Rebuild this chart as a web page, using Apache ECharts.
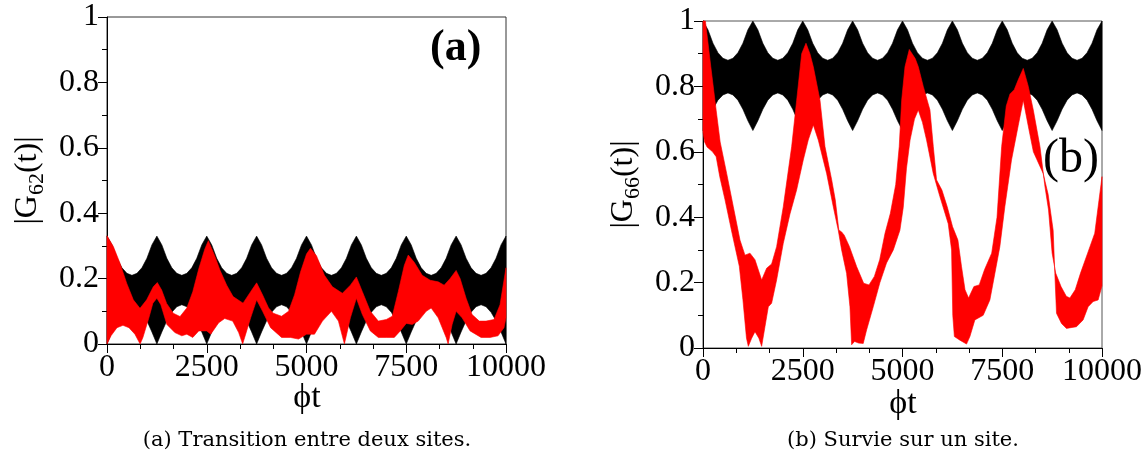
<!DOCTYPE html>
<html>
<head>
<meta charset="utf-8">
<script src="https://cdn.jsdelivr.net/npm/echarts@6/dist/echarts.min.js"></script>
<style>html,body{margin:0;padding:0;background:#fff}#c{width:1147px;height:460px}</style>
</head>
<body>
<div id="c"></div>
<script>
// ---------- data ----------
const xTicks = [0, 2500, 5000, 7500, 10000];
const yTicks = [0, 0.2, 0.4, 0.6, 0.8, 1];

// black band sample positions (phi t)
const blackX = [0,125,250,375,500,625,750,875,1000,1125,1250,1375,1500,1625,1750,1875,2000,2125,2250,2375,2500,2625,2750,2875,3000,3125,3250,3375,3500,3625,3750,3875,4000,4125,4250,4375,4500,4625,4750,4875,5000,5125,5250,5375,5500,5625,5750,5875,6000,6125,6250,6375,6500,6625,6750,6875,7000,7125,7250,7375,7500,7625,7750,7875,8000,8125,8250,8375,8500,8625,8750,8875,9000,9125,9250,9375,9500,9625,9750,9875,10000];

// panel (a) black envelope
const blackAUpper = [0.33,0.303,0.262,0.233,0.216,0.21,0.216,0.233,0.262,0.303,0.33,0.303,0.262,0.233,0.216,0.21,0.216,0.233,0.262,0.303,0.33,0.303,0.262,0.233,0.216,0.21,0.216,0.233,0.262,0.303,0.33,0.303,0.262,0.233,0.216,0.21,0.216,0.233,0.262,0.303,0.33,0.303,0.262,0.233,0.216,0.21,0.216,0.233,0.262,0.303,0.33,0.303,0.262,0.233,0.216,0.21,0.216,0.233,0.262,0.303,0.33,0.303,0.262,0.233,0.216,0.21,0.216,0.233,0.262,0.303,0.33,0.303,0.262,0.233,0.216,0.21,0.216,0.233,0.262,0.303,0.33];
const blackALower = [0,0.037,0.071,0.097,0.114,0.12,0.114,0.097,0.071,0.037,0,0.037,0.071,0.097,0.114,0.12,0.114,0.097,0.071,0.037,0,0.037,0.071,0.097,0.114,0.12,0.114,0.097,0.071,0.037,0,0.037,0.071,0.097,0.114,0.12,0.114,0.097,0.071,0.037,0,0.037,0.071,0.097,0.114,0.12,0.114,0.097,0.071,0.037,0,0.037,0.071,0.097,0.114,0.12,0.114,0.097,0.071,0.037,0,0.037,0.071,0.097,0.114,0.12,0.114,0.097,0.071,0.037,0,0.037,0.071,0.097,0.114,0.12,0.114,0.097,0.071,0.037,0];

// panel (b) black envelope
const blackBUpper = [1,0.973,0.932,0.903,0.886,0.88,0.886,0.903,0.932,0.973,1,0.973,0.932,0.903,0.886,0.88,0.886,0.903,0.932,0.973,1,0.973,0.932,0.903,0.886,0.88,0.886,0.903,0.932,0.973,1,0.973,0.932,0.903,0.886,0.88,0.886,0.903,0.932,0.973,1,0.973,0.932,0.903,0.886,0.88,0.886,0.903,0.932,0.973,1,0.973,0.932,0.903,0.886,0.88,0.886,0.903,0.932,0.973,1,0.973,0.932,0.903,0.886,0.88,0.886,0.903,0.932,0.973,1,0.973,0.932,0.903,0.886,0.88,0.886,0.903,0.932,0.973,1];
const blackBLower = [0.665,0.695,0.73,0.758,0.774,0.78,0.774,0.758,0.73,0.695,0.665,0.695,0.73,0.758,0.774,0.78,0.774,0.758,0.73,0.695,0.665,0.695,0.73,0.758,0.774,0.78,0.774,0.758,0.73,0.695,0.665,0.695,0.73,0.758,0.774,0.78,0.774,0.758,0.73,0.695,0.665,0.695,0.73,0.758,0.774,0.78,0.774,0.758,0.73,0.695,0.665,0.695,0.73,0.758,0.774,0.78,0.774,0.758,0.73,0.695,0.665,0.695,0.73,0.758,0.774,0.78,0.774,0.758,0.73,0.695,0.665,0.695,0.73,0.758,0.774,0.78,0.774,0.758,0.73,0.695,0.665];

// panel (a) red envelope
const redAUpperX = [0,159,326,493,660,827,994,1160,1261,1370,1495,1662,1830,2000,2150,2300,2450,2540,2700,2830,3000,3160,3410,3600,3750,3900,4050,4170,4375,4550,4700,4850,5000,5100,5250,5450,5650,5900,6100,6250,6400,6600,6800,7000,7150,7300,7450,7550,7700,7900,8100,8300,8450,8600,8750,8850,9000,9150,9330,9500,9700,9850,10000];
const redAUpperY = [0.331,0.298,0.247,0.186,0.135,0.109,0.135,0.175,0.188,0.165,0.124,0.094,0.084,0.11,0.16,0.23,0.29,0.316,0.27,0.226,0.18,0.145,0.125,0.16,0.187,0.15,0.11,0.094,0.085,0.10,0.15,0.22,0.275,0.293,0.27,0.21,0.175,0.155,0.18,0.205,0.16,0.10,0.07,0.075,0.085,0.16,0.24,0.272,0.25,0.21,0.195,0.19,0.18,0.20,0.225,0.20,0.14,0.09,0.07,0.07,0.075,0.12,0.233];
const redALowerX = [0,100,250,400,550,700,830,900,1050,1150,1250,1350,1500,1700,1875,2000,2150,2300,2450,2500,2600,2800,2950,3150,3300,3400,3500,3600,3750,3900,4100,4375,4600,4800,5000,5200,5400,5625,5800,5950,6100,6250,6400,6600,6800,7000,7200,7350,7500,7650,7800,8000,8125,8300,8500,8550,8650,8750,8900,9100,9375,9600,9800,9950,10000];
const redALowerY = [0,0.025,0.05,0.057,0.05,0.03,0,0.02,0.08,0.125,0.14,0.12,0.06,0.035,0.025,0.03,0.02,0.04,0.04,0.04,0.03,0.065,0.078,0.07,0.035,0,0.04,0.08,0.135,0.1,0.05,0.02,0.02,0.015,0.03,0.03,0.07,0.1,0.07,0,0.08,0.14,0.09,0.04,0.02,0.02,0.02,0.04,0.063,0.06,0.07,0.1,0.11,0.08,0.02,0,0.06,0.1,0.08,0.04,0.02,0.02,0.025,0.05,0.08];

// panel (b) red envelope
const redBUpperX = [0,60,196,330,430,593,760,927,1052,1177,1303,1470,1595,1720,1845,2012,2222,2348,2473,2581,2680,2765,2932,3057,3226,3315,3404,3474,3540,3671,3850,4027,4160,4295,4428,4562,4696,4830,4918,4979,5062,5170,5319,5396,5521,5688,5772,5854,5988,6121,6255,6389,6478,6567,6656,6790,6923,7057,7235,7369,7485,7600,7694,7800,7900,8027,8153,8278,8445,8571,8660,8750,8839,8973,9106,9195,9329,9462,9640,9818,10000];
const redBUpperY = [1,1,0.86,0.727,0.63,0.534,0.432,0.33,0.284,0.29,0.27,0.208,0.244,0.257,0.31,0.432,0.616,0.758,0.9,0.932,0.9,0.86,0.758,0.616,0.514,0.453,0.361,0.355,0.345,0.31,0.249,0.198,0.193,0.219,0.27,0.351,0.412,0.5,0.616,0.758,0.86,0.913,0.885,0.86,0.8,0.728,0.616,0.514,0.483,0.432,0.371,0.33,0.25,0.178,0.153,0.188,0.193,0.24,0.29,0.40,0.616,0.74,0.777,0.79,0.82,0.855,0.8,0.728,0.616,0.493,0.422,0.29,0.229,0.188,0.158,0.153,0.178,0.229,0.29,0.351,0.524];
const redBLowerX = [0,40,100,240,330,420,552,730,910,1000,1090,1136,1220,1303,1400,1470,1553,1637,1720,1845,2012,2180,2346,2513,2638,2765,2889,3098,3265,3390,3474,3599,3683,3725,3800,3900,4016,4100,4267,4434,4600,4770,4935,5019,5100,5190,5300,5395,5500,5603,5770,5937,6146,6230,6260,6300,6438,6605,6689,6814,7023,7190,7315,7440,7565,7732,7900,8027,8150,8280,8525,8650,8776,8818,8860,8985,9110,9360,9527,9652,9778,9903,10000];
const redBLowerY = [0.66,0.63,0.615,0.6,0.585,0.524,0.453,0.35,0.25,0.148,0.03,0.005,0.03,0.05,0.03,0.005,0.065,0.126,0.137,0.208,0.32,0.41,0.483,0.575,0.636,0.682,0.636,0.534,0.432,0.36,0.30,0.228,0.126,0.01,0.02,0.015,0.014,0.055,0.126,0.2,0.26,0.3,0.36,0.43,0.55,0.636,0.7,0.728,0.69,0.636,0.534,0.463,0.38,0.3,0.1,0.035,0.024,0.012,0.035,0.086,0.1,0.147,0.228,0.31,0.432,0.575,0.68,0.758,0.68,0.6,0.534,0.47,0.36,0.228,0.106,0.075,0.06,0.065,0.086,0.126,0.142,0.147,0.19];

// ---------- chart ----------
const FONT = '"Liberation Serif", "Times New Roman", serif';
const CAPFONT = '"DejaVu Serif", serif';
const chart = echarts.init(document.getElementById('c'), null, {renderer: 'canvas'});

function band(ux, uy, lx, ly, color, idx) {
  return {
    type: 'custom', xAxisIndex: idx, yAxisIndex: idx, silent: true, animation: false,
    data: [[0, 0]],
    renderItem: function (params, api) {
      const pts = [];
      for (let i = 0; i < ux.length; i++) pts.push(api.coord([ux[i], uy[i]]));
      for (let i = lx.length - 1; i >= 0; i--) pts.push(api.coord([lx[i], ly[i]]));
      return {type: 'polygon', shape: {points: pts}, style: {fill: color, stroke: color, lineWidth: 0.6}};
    }
  };
}

function xAx(idx) {
  return {
    type: 'value', gridIndex: idx, min: xTicks[0], max: xTicks[xTicks.length - 1], interval: xTicks[1] - xTicks[0],
    axisLine: {show: true, onZero: false, lineStyle: {color: '#000', width: 1}},
    axisTick: {show: true, inside: false, length: 9, lineStyle: {color: '#000'}},
    minorTick: {show: true, splitNumber: 3, length: 5, lineStyle: {color: '#000'}},
    splitLine: {show: false},
    axisLabel: {fontFamily: FONT, fontSize: 32, color: '#000', margin: 8, formatter: v => String(v)}
  };
}
function yAx(idx, sub) {
  return {
    type: 'value', gridIndex: idx, min: yTicks[0], max: yTicks[yTicks.length - 1], interval: yTicks[1] - yTicks[0],
    name: '{m||G}{s|' + sub + '}{m|(t)|}', nameLocation: 'middle', nameGap: 59, nameRotate: 90,
    nameTextStyle: {
      fontFamily: FONT, color: '#000',
      rich: {
        m: {fontFamily: FONT, fontSize: 32, color: '#000', lineHeight: 40, verticalAlign: 'middle'},
        s: {fontFamily: FONT, fontSize: 22, color: '#000', lineHeight: 40, verticalAlign: 'bottom', padding: [14, 0, 0, 0]}
      }
    },
    axisLine: {show: true, lineStyle: {color: '#000', width: 1}},
    axisTick: {show: true, inside: false, length: 9, lineStyle: {color: '#000'}},
    minorTick: {show: true, splitNumber: 2, length: 5, lineStyle: {color: '#000'}},
    splitLine: {show: false},
    axisLabel: {fontFamily: FONT, fontSize: 32, color: '#000', margin: 8, formatter: v => String(Math.round(v * 10) / 10)}
  };
}

chart.setOption({
  animation: false,
  backgroundColor: '#fff',
  grid: [
    {left: 107, top: 17, width: 399, height: 327, show: true, borderColor: '#333', borderWidth: 1, backgroundColor: 'transparent'},
    {left: 703, top: 21, width: 399, height: 327, show: true, borderColor: '#555', borderWidth: 1, backgroundColor: 'transparent'}
  ],
  xAxis: [xAx(0), xAx(1)],
  yAxis: [yAx(0, '62'), yAx(1, '66')],
  series: [
    band(blackX, blackAUpper, blackX, blackALower, '#000', 0),
    band(redAUpperX, redAUpperY, redALowerX, redALowerY, '#ff0000', 0),
    band(blackX, blackBUpper, blackX, blackBLower, '#000', 1),
    band(redBUpperX, redBUpperY, redBLowerX, redBLowerY, '#ff0000', 1)
  ],
  graphic: [
    {type: 'text', x: 307, y: 398, z: 100, style: {text: 'ϕt', font: '34px ' + FONT, fill: '#000', textAlign: 'center', textVerticalAlign: 'middle'}},
    {type: 'text', x: 903, y: 404, z: 100, style: {text: 'ϕt', font: '34px ' + FONT, fill: '#000', textAlign: 'center', textVerticalAlign: 'middle'}},
    {type: 'text', left: 430, top: 27, z: 100, style: {text: '(a)', font: 'bold 44px ' + FONT, fill: '#000'}},
    {type: 'text', left: 1043, top: 135, z: 100, style: {text: '(b)', font: '48px ' + FONT, fill: '#000'}},
    {type: 'text', x: 307, y: 441, z: 100, style: {text: '(a) Transition entre deux sites.', font: '21px ' + CAPFONT, fill: '#000', textAlign: 'center', textVerticalAlign: 'middle'}},
    {type: 'text', x: 903, y: 441, z: 100, style: {text: '(b) Survie sur un site.', font: '21px ' + CAPFONT, fill: '#000', textAlign: 'center', textVerticalAlign: 'middle'}}
  ]
});
</script>
</body>
</html>
